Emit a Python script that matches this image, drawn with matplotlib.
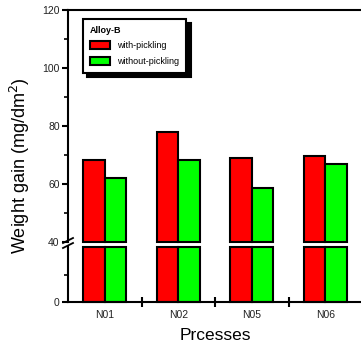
import matplotlib.pyplot as plt
import numpy as np

plt.rcParams['font.family'] = ['Liberation Sans', 'DejaVu Sans']

processes = ['N01', 'N02', 'N05', 'N06']
with_pickling = [68.3, 77.8, 69.0, 69.8]
without_pickling = [62.0, 68.3, 58.7, 66.9]

x = np.arange(1, len(processes) + 1)
w = 0.29
red = '#ff0000'
green = '#00ff00'

fig = plt.figure(figsize=(3.61, 3.53), dpi=100)
ax_top = fig.add_axes([68/361, 111/353, 294/361, 232/353])
ax_bot = fig.add_axes([68/361, 51/353, 294/361, 55/353])

for ax, lo in ((ax_top, 40), (ax_bot, 0)):
    if lo == 40:
        h1 = np.array(with_pickling) - 40
        h2 = np.array(without_pickling) - 40
    else:
        h1 = np.full(len(x), 40.0)
        h2 = np.full(len(x), 40.0)
    b1 = ax.bar(x - w/2, h1, w, bottom=lo, color=red, edgecolor='black',
                linewidth=1.5, label='with-pickling', clip_on=False)
    b2 = ax.bar(x + w/2, h2, w, bottom=lo, color=green, edgecolor='black',
                linewidth=1.5, label='without-pickling', clip_on=False)
    ax.set_xlim(0.5, 4.5)
    ax.spines['right'].set_visible(False)
    for s in ax.spines.values():
        s.set_linewidth(1.5)

ax_top.set_ylim(40, 120)
ax_top.set_yticks([40, 60, 80, 100, 120])
ax_top.set_yticks([50, 70, 90, 110], minor=True)
ax_top.spines['bottom'].set_visible(False)
ax_top.tick_params(axis='x', which='both', bottom=False, labelbottom=False)

ax_bot.set_ylim(0, 40)
ax_bot.set_yticks([0])
ax_bot.set_yticks([20], minor=True)
ax_bot.spines['top'].set_visible(False)
ax_bot.set_xticks(x)
ax_bot.set_xticklabels(processes)
ax_bot.set_xticks([1.5, 2.5, 3.5], minor=True)
ax_bot.tick_params(axis='x', which='major', length=0, pad=6)
ax_bot.tick_params(axis='x', which='minor', direction='inout', length=7, width=1.5)

for ax in (ax_top, ax_bot):
    ax.tick_params(axis='y', which='major', direction='out', length=4, width=1.5, pad=2)
    ax.tick_params(axis='y', which='minor', direction='out', length=3, width=1.2)
    ax.tick_params(labelsize=7.5, labelcolor='#222222')

# break marks on the left spine
for yy in (240.5, 245.5):
    fig.add_artist(plt.Line2D([63/361, 73/361], [(353-yy-2.5)/353, (353-yy+2.5)/353],
                              color='black', lw=1.3))

leg = ax_top.legend(handles=[b1, b2], loc='upper left', bbox_to_anchor=(0.05, 0.962),
                    borderaxespad=0, title='Alloy-B', fontsize=6.5,
                    title_fontproperties={'weight': 'bold', 'size': 6.5},
                    alignment='left', fancybox=False, edgecolor='black',
                    framealpha=1, shadow={'color': 'black', 'alpha': 1, 'ox': 3, 'oy': -3},
                    handlelength=2.2, handleheight=1.0, labelspacing=0.7,
                    borderpad=0.8, handletextpad=0.8)
leg.get_frame().set_linewidth(1.5)

fig.text(20/361, 0.53, 'Weight gain (mg/dm$^2$)', rotation=90, ha='center', va='center',
         fontsize=13)
fig.text(215/361, 17/353, 'Prcesses', ha='center', va='center', fontsize=12.5)

fig.savefig('out.png', dpi=100)
